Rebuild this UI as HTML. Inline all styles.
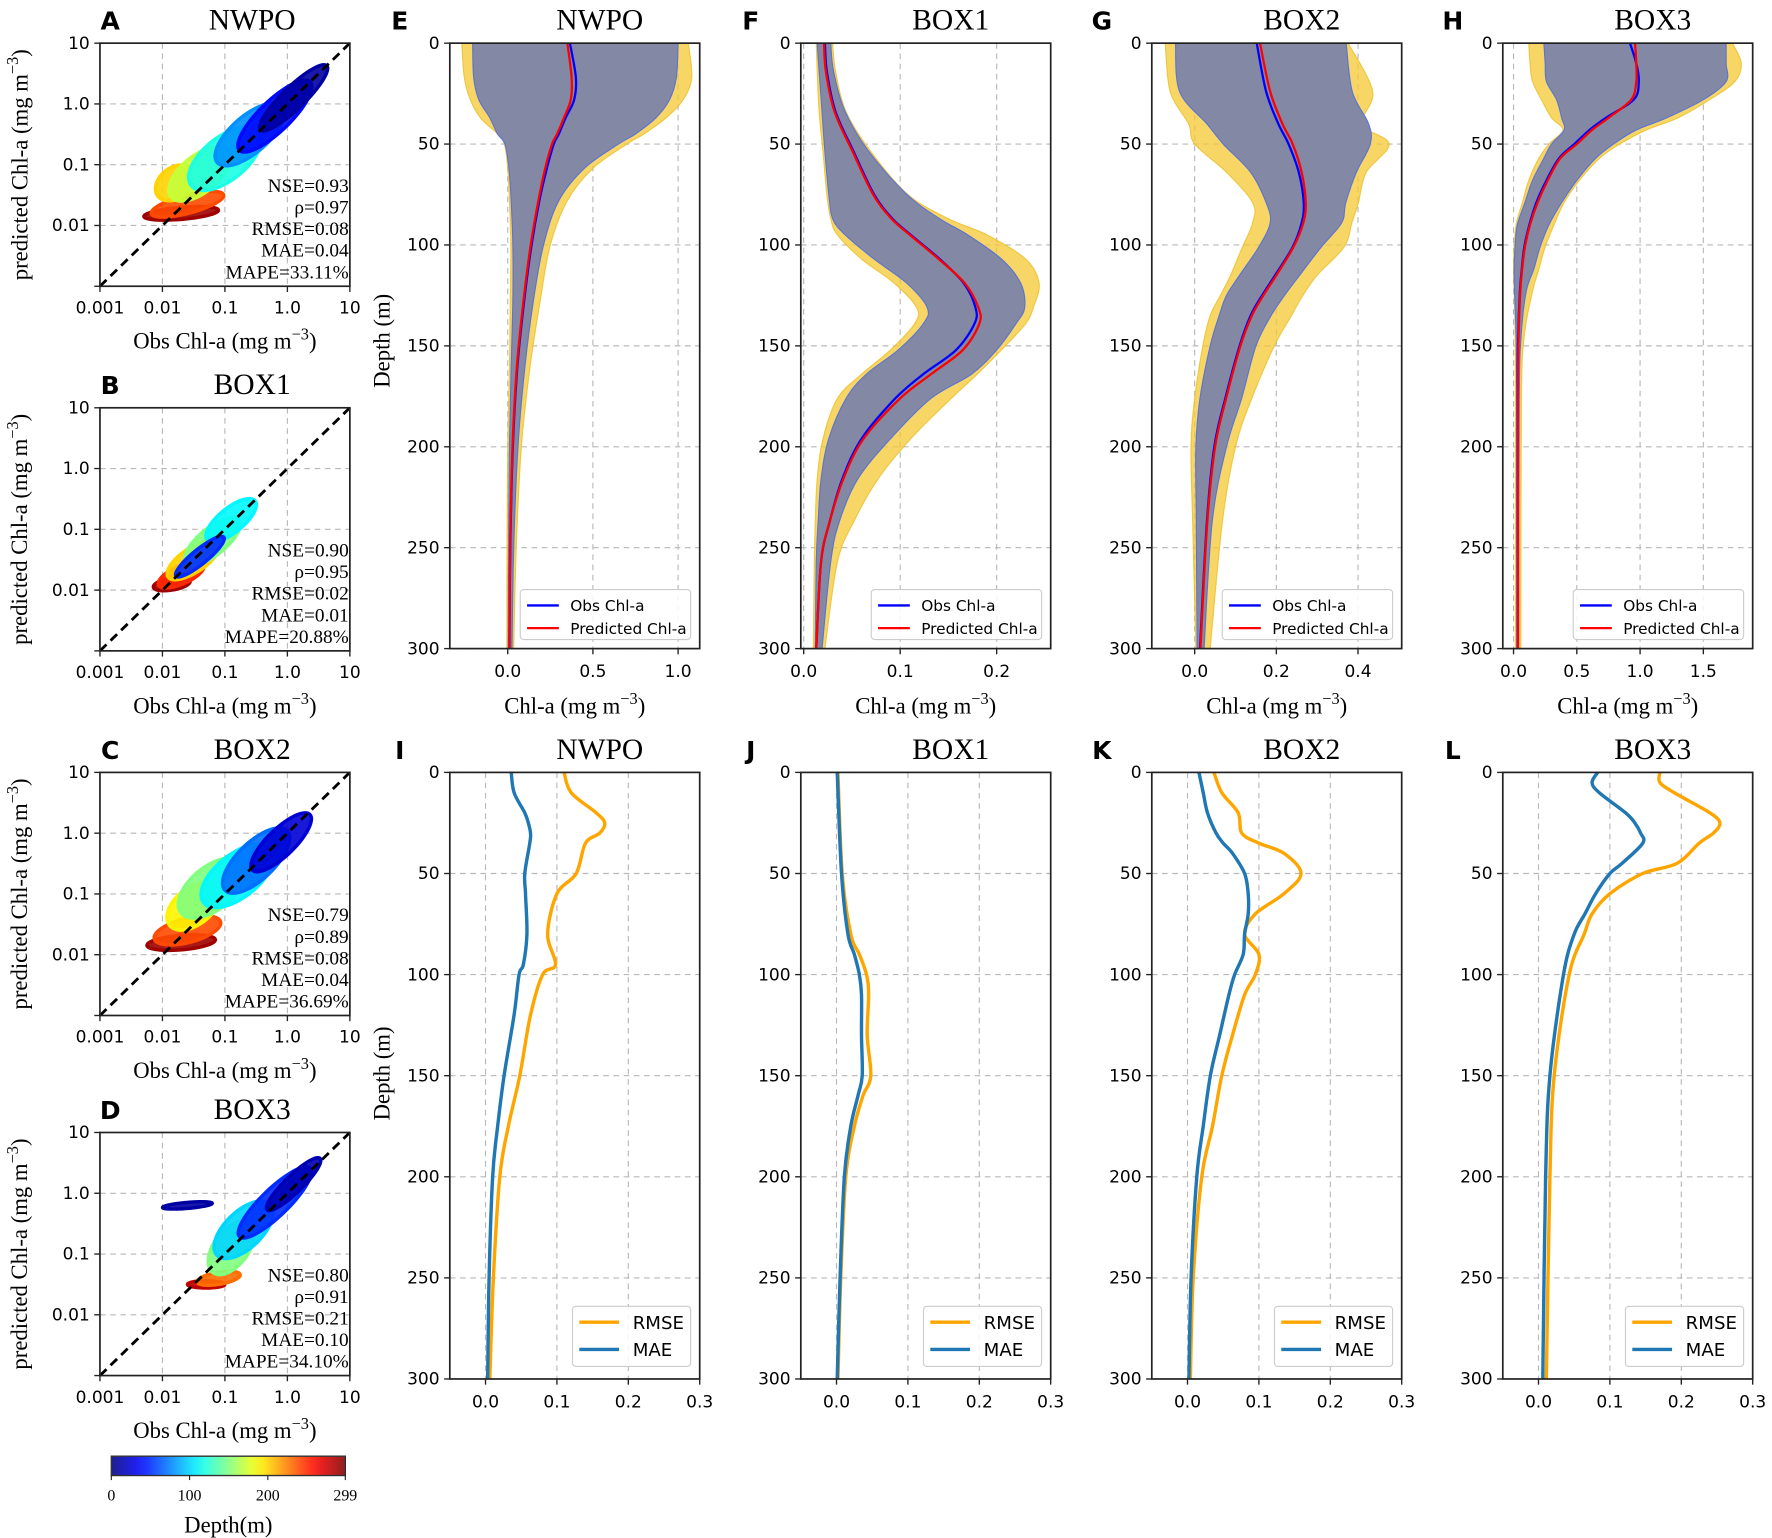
<!DOCTYPE html>
<html><head><meta charset="utf-8"><title>Chl-a evaluation</title>
<style>
html,body{margin:0;padding:0;background:#fff;}
svg{display:block;}
.sans{font-family:"DejaVu Sans","Liberation Sans",sans-serif;}
.serif{font-family:"Liberation Serif","DejaVu Serif",serif;}
</style></head>
<body>
<svg id="fig" xmlns="http://www.w3.org/2000/svg" width="1772" height="1538" viewBox="0 0 1560 1354" preserveAspectRatio="none"></svg>
<script>
// ---------- scatter cluster data (log10 obs, log10 pred, depth, spread major/minor in decades, angle deg) ----------
const aObsLog=[-1.7,-1.6,-1.8,-1.4,-1.0,-0.6,-0.2,0.1];
const aPredLog=[-1.8,-1.65,-1.3,-1.15,-0.9,-0.5,-0.2,0.1];
const aDepth=[290,240,200,170,120,80,40,10];
const aMaj=[0.6,0.6,0.35,0.6,0.7,0.7,0.8,0.75];
const aMin=[0.1,0.15,0.25,0.3,0.35,0.3,0.25,0.18];
const aAng=[5,15,40,40,40,42,45,45];
const aStats=["NSE=0.93","ρ=0.97","RMSE=0.08","MAE=0.04","MAPE=33.11%"];

const bObsLog=[-1.85,-1.7,-1.5,-1.2,-0.9,-1.4];
const bPredLog=[-1.9,-1.75,-1.5,-1.2,-0.85,-1.45];
const bDepth=[290,250,200,150,110,50];
const bMaj=[0.3,0.4,0.5,0.55,0.5,0.5];
const bMin=[0.1,0.15,0.2,0.22,0.2,0.12];
const bAng=[10,25,35,40,40,40];
const bStats=["NSE=0.90","ρ=0.95","RMSE=0.02","MAE=0.01","MAPE=20.88%"];

const cObsLog=[-1.7,-1.6,-1.5,-1.2,-0.8,-0.5,-0.1];
const cPredLog=[-1.8,-1.6,-1.2,-0.9,-0.7,-0.45,-0.15];
const cDepth=[290,240,190,150,110,70,25];
const cMaj=[0.55,0.55,0.5,0.65,0.7,0.7,0.65];
const cMin=[0.12,0.2,0.3,0.35,0.35,0.3,0.22];
const cAng=[5,15,40,40,40,45,45];
const cStats=["NSE=0.79","ρ=0.89","RMSE=0.08","MAE=0.04","MAPE=36.69%"];

const dObsLog=[-1.3,-1.1,-0.9,-0.7,-0.2,0.1,-1.6];
const dPredLog=[-1.5,-1.4,-0.9,-0.6,-0.15,0.15,-0.2];
const dDepth=[280,230,150,100,50,15,10];
const dMaj=[0.3,0.35,0.5,0.6,0.8,0.6,0.4];
const dMin=[0.06,0.1,0.28,0.3,0.22,0.14,0.05];
const dAng=[0,10,55,45,45,45,5];
const dStats=["NSE=0.80","ρ=0.91","RMSE=0.21","MAE=0.10","MAPE=34.10%"];

const logTicks=[0.001,0.01,0.1,1,10];
const logTickLabels=["0.001","0.01","0.1","1.0","10"];
const cbarTicks=[0,100,200,299];

// ---------- profile data ----------
const eD=[0,17,28,37,45,50,62,78,100,128,161,200,250,300];
const eObs=[0.365,0.40,0.39,0.34,0.30,0.27,0.23,0.186,0.14,0.096,0.056,0.03,0.015,0.01];
const ePred=[0.35,0.375,0.37,0.33,0.29,0.26,0.22,0.18,0.135,0.092,0.053,0.028,0.014,0.01];
const eGLo=[-0.206,-0.2,-0.17,-0.105,-0.06,-0.016,0.007,0.02,0.03,0.03,0.02,0.01,0.005,0.003];
const eGHi=[1.0,0.99,0.95,0.87,0.75,0.65,0.45,0.3,0.21,0.15,0.1,0.06,0.035,0.025];
const eYLo=[-0.27,-0.255,-0.22,-0.16,-0.06,-0.02,0.0,0.01,0.018,0.015,0.01,0.0,-0.004,-0.005];
const eYHi=[1.06,1.08,1.03,0.93,0.8,0.7,0.5,0.35,0.25,0.19,0.13,0.08,0.05,0.035];

const fD=[0,14,34,54,75,87,95,107,119,131,139,152,164,176,196,216,237,257,300];
const fObs=[0.022,0.024,0.033,0.052,0.073,0.092,0.111,0.141,0.166,0.178,0.177,0.158,0.124,0.095,0.06,0.04,0.027,0.018,0.013];
const fPred=[0.021,0.023,0.032,0.051,0.072,0.091,0.11,0.14,0.167,0.181,0.182,0.165,0.132,0.1,0.062,0.041,0.027,0.018,0.013];
const fGLo=[0.014,0.016,0.019,0.022,0.026,0.03,0.043,0.073,0.107,0.128,0.124,0.098,0.065,0.044,0.026,0.018,0.015,0.013,0.012];
const fGHi=[0.028,0.031,0.043,0.068,0.107,0.141,0.17,0.205,0.225,0.229,0.22,0.2,0.174,0.132,0.09,0.056,0.037,0.028,0.019];
const fYLo=[0.013,0.014,0.016,0.02,0.024,0.028,0.035,0.06,0.094,0.117,0.115,0.09,0.06,0.035,0.02,0.014,0.012,0.011,0.01];
const fYHi=[0.03,0.033,0.044,0.07,0.108,0.15,0.19,0.23,0.244,0.238,0.23,0.205,0.18,0.153,0.111,0.077,0.052,0.035,0.022];

const gD=[0,24,40,50,64,79,89,101,115,125,135,150,176,200,237,300];
const gObs=[0.152,0.175,0.205,0.23,0.255,0.267,0.262,0.24,0.197,0.165,0.137,0.11,0.075,0.048,0.03,0.013];
const gPred=[0.16,0.185,0.215,0.24,0.262,0.272,0.266,0.242,0.2,0.168,0.14,0.112,0.077,0.05,0.031,0.014];
const gGLo=[-0.047,-0.037,0.03,0.07,0.137,0.175,0.185,0.157,0.11,0.078,0.06,0.038,0.013,0.003,0.004,0.006];
const gGHi=[0.371,0.386,0.426,0.43,0.396,0.37,0.36,0.31,0.257,0.22,0.187,0.15,0.115,0.078,0.043,0.023];
const gYLo=[-0.072,-0.06,-0.015,0.0,0.078,0.142,0.142,0.117,0.088,0.063,0.038,0.02,0.0,-0.009,-0.005,0.003];
const gYHi=[0.376,0.436,0.41,0.476,0.42,0.401,0.385,0.366,0.3,0.265,0.237,0.195,0.14,0.1,0.068,0.038];

const hD=[0,10,19,28,37,43,50,57,68,79,90,101,112,123,145,178,300];
const hObs=[0.92,0.97,0.99,0.95,0.73,0.6,0.48,0.36,0.26,0.18,0.125,0.085,0.065,0.05,0.037,0.032,0.032];
const hPred=[0.96,0.97,0.97,0.93,0.75,0.62,0.5,0.37,0.27,0.19,0.13,0.09,0.068,0.053,0.04,0.035,0.035];
const hGLo=[0.24,0.25,0.26,0.34,0.38,0.40,0.3,0.24,0.15,0.09,0.03,0.012,0.005,0.008,0.02,0.025,0.027];
const hGHi=[1.68,1.68,1.68,1.5,1.21,0.97,0.79,0.65,0.5,0.38,0.28,0.21,0.16,0.1,0.06,0.045,0.04];
const hYLo=[0.12,0.13,0.15,0.22,0.3,0.39,0.28,0.2,0.12,0.07,0.02,0.005,0.0,0.005,0.012,0.015,0.015];
const hYHi=[1.73,1.8,1.75,1.55,1.3,1.05,0.84,0.68,0.52,0.4,0.32,0.25,0.2,0.15,0.085,0.062,0.058];

// ---------- error profile data ----------
const iD=[0,10,20,25,30,35,50,60,80,95,100,120,150,175,200,250,300];
const iRmse=[0.11,0.12,0.155,0.167,0.16,0.14,0.127,0.1,0.087,0.098,0.08,0.063,0.048,0.032,0.02,0.011,0.006];
const iMae=[0.036,0.04,0.055,0.06,0.063,0.062,0.055,0.056,0.058,0.053,0.047,0.04,0.026,0.017,0.01,0.005,0.003];
const jD=[0,50,80,90,100,110,130,150,160,175,200,250,300];
const jRmse=[0.002,0.008,0.02,0.032,0.042,0.045,0.043,0.048,0.037,0.025,0.013,0.006,0.002];
const jMae=[0.001,0.007,0.016,0.025,0.032,0.035,0.035,0.036,0.03,0.02,0.011,0.005,0.001];
const kD=[0,10,20,30,35,40,50,60,70,80,90,100,110,130,150,175,200,250,300];
const kRmse=[0.037,0.048,0.071,0.076,0.1,0.135,0.159,0.135,0.095,0.08,0.1,0.095,0.08,0.063,0.048,0.035,0.02,0.008,0.004];
const kMae=[0.016,0.022,0.028,0.04,0.05,0.063,0.08,0.085,0.085,0.08,0.078,0.066,0.058,0.045,0.032,0.022,0.013,0.005,0.002];
const lD=[0,5,10,20,25,30,35,45,50,60,70,80,100,150,200,300];
const lRmse=[0.17,0.17,0.19,0.24,0.254,0.245,0.225,0.194,0.146,0.1,0.075,0.064,0.043,0.022,0.016,0.011];
const lMae=[0.083,0.075,0.085,0.122,0.135,0.143,0.146,0.117,0.1,0.08,0.065,0.05,0.035,0.016,0.01,0.006];

const depthTicks=[0,50,100,150,200,250,300];
const eTicks=[0,0.5,1.0], eTickLabels=["0.0","0.5","1.0"];
const fTicks=[0,0.1,0.2], fTickLabels=["0.0","0.1","0.2"];
const gTicks=[0,0.2,0.4], gTickLabels=["0.0","0.2","0.4"];
const hTicks=[0,0.5,1.0,1.5], hTickLabels=["0.0","0.5","1.0","1.5"];
const errTicks=[0,0.1,0.2,0.3], errTickLabels=["0.0","0.1","0.2","0.3"];

// ---------- helpers ----------
const NS="http://www.w3.org/2000/svg";
const svg=document.getElementById('fig');
function mk(tag,attrs,parent){const el=document.createElementNS(NS,tag);for(const k in attrs)el.setAttribute(k,attrs[k]);(parent||svg).appendChild(el);return el;}
function txt(s,x,y,cls,size,anchor,parent,extra){const t=mk('text',Object.assign({x:x,y:y,'font-size':size,'text-anchor':anchor||'middle'},extra||{}),parent);t.setAttribute('class',cls);t.textContent=s;return t;}
function jet(t){const c=v=>Math.round(255*Math.max(0,Math.min(1,v)));
 let r=1.5-Math.abs(4*t-3),g=1.5-Math.abs(4*t-2),b=1.5-Math.abs(4*t-1);
 return 'rgb('+c(r)+','+c(g)+','+c(b)+')';}
function smooth(pts){if(pts.length<2)return '';let d='M'+pts[0][0].toFixed(2)+','+pts[0][1].toFixed(2);
 for(let i=0;i<pts.length-1;i++){const p0=pts[Math.max(0,i-1)],p1=pts[i],p2=pts[i+1],p3=pts[Math.min(pts.length-1,i+2)];
  const c1=[p1[0]+(p2[0]-p0[0])/6,p1[1]+(p2[1]-p0[1])/6],c2=[p2[0]-(p3[0]-p1[0])/6,p2[1]-(p3[1]-p1[1])/6];
  d+=' C'+c1[0].toFixed(2)+','+c1[1].toFixed(2)+' '+c2[0].toFixed(2)+','+c2[1].toFixed(2)+' '+p2[0].toFixed(2)+','+p2[1].toFixed(2);}
 return d;}
function supLabel(parent,x,y,pre,size,cls,rot,name){
 const t=mk('text',{x:x,y:y,'font-size':size,'text-anchor':'middle'},parent);t.setAttribute('class',cls);
 if(rot)t.setAttribute('transform','rotate(-90 '+x+' '+y+')');
 
 
 const a=mk('tspan',{},t);a.textContent=pre+'(mg m';
 const b=mk('tspan',{dy:-8,'font-size':size*0.72},t);b.textContent='−3';
 const c=mk('tspan',{dy:8},t);c.textContent=')';
 return t;}

// ---------- scatter panels ----------
const SL=88,SR=308,SH=214;
function scatterPanel(letter,title,top,obsLog,predLog,depth,maj,mn,ang,stats,key){
 const g=mk('g',{});
 
 
 const bot=top+SH;
 const sx=v=>SL+(Math.log10(v)+3)/4*(SR-SL);
 const sy=v=>bot-(Math.log10(v)+3)/4*SH;
 for(let k=1;k<4;k++){
  const gx=mk('line',{x1:sx(logTicks[k]),x2:sx(logTicks[k]),y1:top,y2:bot,stroke:'#b8b8b8','stroke-width':1,'stroke-dasharray':'5,4'},g);
  
  
  const gy=mk('line',{x1:SL,x2:SR,y1:sy(logTicks[k]),y2:sy(logTicks[k]),stroke:'#b8b8b8','stroke-width':1,'stroke-dasharray':'5,4'},g);
  
  
 }
 const order=depth.map((d,i)=>i).sort((a,b)=>depth[b]-depth[a]);
 order.forEach(i=>{
  const a=ang[i]*Math.PI/180,pts=[];
  for(let s=0;s<36;s++){const t=s/36*2*Math.PI;
   const lx=obsLog[i]+maj[i]*Math.cos(t)*Math.cos(a)-mn[i]*Math.sin(t)*Math.sin(a);
   const ly=predLog[i]+maj[i]*Math.cos(t)*Math.sin(a)+mn[i]*Math.sin(t)*Math.cos(a);
   pts.push([sx(Math.pow(10,lx)),sy(Math.pow(10,ly))]);}
  const col=jet(depth[i]/299);
  const p=mk('path',{d:smooth(pts.concat([pts[0]]))+'Z',fill:col,stroke:col,'stroke-width':3,'stroke-linejoin':'round','fill-opacity':0.9},g);
  
  
 });
 const dl=mk('line',{x1:sx(0.001),y1:sy(0.001),x2:sx(10),y2:sy(10),stroke:'#000','stroke-width':2.5,'stroke-dasharray':'8,5'},g);
 
 
 const fr=mk('rect',{x:SL,y:top,width:SR-SL,height:SH,fill:'none',stroke:'#222','stroke-width':1.5},g);
 
 
 logTicks.forEach((v,k)=>{
  mk('line',{x1:sx(v),x2:sx(v),y1:bot,y2:bot+5,stroke:'#222','stroke-width':1.2},g);
  const xt=txt(logTickLabels[k],sx(v),bot+24,'sans',15,'middle',g);
  
  
  mk('line',{x1:SL-5,x2:SL,y1:sy(v),y2:sy(v),stroke:'#222','stroke-width':1.2},g);
  if(k>0){const yt=txt(logTickLabels[k],SL-9,sy(v)+5,'sans',15,'end',g);
   
   }
 });
 stats.forEach((s,k)=>{const st=txt(s,SR-1,top+131+k*19,'serif',17,'end',g);
  
  });
 const pl=txt(letter,97,top-12,'sans',22,'middle',g,{'font-weight':'bold'});
 
 
 const tt=txt(title,222,top-12,'serif',26,'middle',g);
 
 
 supLabel(g,(SL+SR)/2,bot+55,'Obs Chl-a ',20,'serif',false,'x-axis-title');
 supLabel(g,24,top+SH/2,'predicted Chl-a ',20,'serif',true,'y-axis-title');
}
scatterPanel('A','NWPO',38,aObsLog,aPredLog,aDepth,aMaj,aMin,aAng,aStats,'nwpo');
scatterPanel('B','BOX1',359,bObsLog,bPredLog,bDepth,bMaj,bMin,bAng,bStats,'box1');
scatterPanel('C','BOX2',680,cObsLog,cPredLog,cDepth,cMaj,cMin,cAng,cStats,'box2');
scatterPanel('D','BOX3',997,dObsLog,dPredLog,dDepth,dMaj,dMin,dAng,dStats,'box3');

// colorbar
(function(){
 const g=mk('g',{});
 
 
 const x0=98,x1=304,y0=1282,y1=1299;
 const defs=mk('defs',{},g);
 const lg=mk('linearGradient',{id:'jetg',x1:0,x2:1,y1:0,y2:0},defs);
 for(let i=0;i<=20;i++){mk('stop',{offset:(i/20),'stop-color':jet(i/20)},lg);}
 mk('rect',{x:x0,y:y0,width:x1-x0,height:y1-y0,fill:'url(#jetg)',stroke:'#222','stroke-width':1.2},g);
 mk('rect',{x:x0,y:y0,width:x1-x0,height:y1-y0,fill:'#fff','fill-opacity':0.12},g);
 cbarTicks.forEach(v=>{const x=x0+v/299*(x1-x0);
  mk('line',{x1:x,x2:x,y1:y1,y2:y1+4,stroke:'#222','stroke-width':1},g);
  const t=txt(String(v),x,y1+22,'serif',14,'middle',g);
  
  });
 const lb=txt('Depth(m)',(x0+x1)/2,1349,'serif',20,'middle',g);
 
 
})();

// ---------- profile panels ----------
const colL=[396,705,1014,1323],PW=220;
function profileAxes(g,l,t,b,xmin,xmax,ticks,labels){
 const X=v=>l+(v-xmin)/(xmax-xmin)*PW;
 const Y=d=>t+d/300*(b-t);
 ticks.forEach(v=>{const gl=mk('line',{x1:X(v),x2:X(v),y1:t,y2:b,stroke:'#b8b8b8','stroke-width':1,'stroke-dasharray':'5,4'},g);
  
  });
 depthTicks.forEach(d=>{const gl=mk('line',{x1:l,x2:l+PW,y1:Y(d),y2:Y(d),stroke:'#b8b8b8','stroke-width':1,'stroke-dasharray':'5,4'},g);
  
  });
 return {X,Y};
}
function profileFrame(g,l,t,b,X,Y,ticks,labels){
 const fr=mk('rect',{x:l,y:t,width:PW,height:b-t,fill:'none',stroke:'#222','stroke-width':1.5},g);
 
 
 ticks.forEach((v,k)=>{mk('line',{x1:X(v),x2:X(v),y1:b,y2:b+5,stroke:'#222','stroke-width':1.2},g);
  const tl=txt(labels[k],X(v),b+25,'sans',15,'middle',g);
  
  });
 depthTicks.forEach(d=>{mk('line',{x1:l-5,x2:l,y1:Y(d),y2:Y(d),stroke:'#222','stroke-width':1.2},g);
  const tl=txt(String(d),l-9,Y(d)+5,'sans',15,'end',g);
  
  });
}
function band(g,X,Y,D,lo,hi,fill,stroke,name){
 const a=D.map((d,i)=>[X(lo[i]),Y(d)]),b=D.map((d,i)=>[X(hi[i]),Y(d)]).reverse();
 const p1=smooth(a),p2=smooth(b).replace('M','L');
 const p=mk('path',{d:p1+' '+p2+' Z',fill:fill,stroke:stroke,'stroke-width':1},g);
 
 
}
function line(g,X,Y,D,v,col,w,name){
 const p=mk('path',{d:smooth(D.map((d,i)=>[X(v[i]),Y(d)])),fill:'none',stroke:col,'stroke-width':w},g);
 
 
}
function titles(g,letter,title,l,t){
 const pl=txt(letter,l-44,t-12,'sans',22,'middle',g,{'font-weight':'bold'});
 
 
 const tt=txt(title,l+PW*0.6,t-12,'serif',26,'middle',g);
 
 
}
function chlPanel(idx,letter,title,xmin,xmax,ticks,labels,D,obs,pred,gLo,gHi,yLo,yHi,key){
 const l=colL[idx],t=38,b=571;
 const g=mk('g',{});
 
 
 const {X,Y}=profileAxes(g,l,t,b,xmin,xmax,ticks,labels);
 const cp=mk('clipPath',{id:'cp'+key},g);mk('rect',{x:l,y:t,width:PW,height:b-t},cp);
 const inner=mk('g',{'clip-path':'url(#cp'+key+')'},g);
 band(inner,X,Y,D,yLo,yHi,'rgba(244,200,50,0.75)','rgba(235,190,40,0.8)','pred-range-band');
 band(inner,X,Y,D,gLo,gHi,'rgb(131,137,164)','#5b73d6','obs-range-band');
 line(inner,X,Y,D,obs,'#0000ff',2,'obs-line');
 line(inner,X,Y,D,pred,'#ff0000',2,'pred-line');
 profileFrame(g,l,t,b,X,Y,ticks,labels);
 titles(g,letter,title,l,t);
 supLabel(g,l+PW/2,b+57,'Chl-a ',20,'serif',false,'x-axis-title');
 const lg=mk('g',{},g);
 
 
 const bx=l+PW-158;
 mk('rect',{x:bx,y:519,width:150,height:44,rx:3,fill:'#fff','fill-opacity':0.85,stroke:'#ccc','stroke-width':1},lg);
 const l1=mk('line',{x1:bx+6,x2:bx+34,y1:533,y2:533,stroke:'#0000ff','stroke-width':2},lg);
 
 
 txt('Obs Chl-a',bx+44,538,'sans',13.5,'start',lg);
 const l2=mk('line',{x1:bx+6,x2:bx+34,y1:553,y2:553,stroke:'#ff0000','stroke-width':2},lg);
 
 
 txt('Predicted Chl-a',bx+44,558,'sans',13.5,'start',lg);
}
chlPanel(0,'E','NWPO',-0.34,1.127,eTicks,eTickLabels,eD,eObs,ePred,eGLo,eGHi,eYLo,eYHi,'e');
chlPanel(1,'F','BOX1',-0.003,0.256,fTicks,fTickLabels,fD,fObs,fPred,fGLo,fGHi,fYLo,fYHi,'f');
chlPanel(2,'G','BOX2',-0.105,0.507,gTicks,gTickLabels,gD,gObs,gPred,gGLo,gGHi,gYLo,gYHi,'g');
chlPanel(3,'H','BOX3',-0.085,1.89,hTicks,hTickLabels,hD,hObs,hPred,hGLo,hGHi,hYLo,hYHi,'h');

function errPanel(idx,letter,title,D,rmse,mae,key){
 const l=colL[idx],t=680,b=1214;
 const g=mk('g',{});
 
 
 const {X,Y}=profileAxes(g,l,t,b,-0.05,0.3,errTicks,errTickLabels);
 line(g,X,Y,D,rmse,'#ffa500',3,'rmse-line');
 line(g,X,Y,D,mae,'#1f77b4',3,'mae-line');
 profileFrame(g,l,t,b,X,Y,errTicks,errTickLabels);
 titles(g,letter,title,l,t);
 const lg=mk('g',{},g);
 
 
 const bx=l+108;
 mk('rect',{x:bx,y:1150,width:104,height:53,rx:3,fill:'#fff','fill-opacity':0.85,stroke:'#ccc','stroke-width':1},lg);
 const l1=mk('line',{x1:bx+6,x2:bx+41,y1:1164,y2:1164,stroke:'#ffa500','stroke-width':3},lg);
 
 
 txt('RMSE',bx+53,1170,'sans',16,'start',lg);
 const l2=mk('line',{x1:bx+6,x2:bx+41,y1:1188,y2:1188,stroke:'#1f77b4','stroke-width':3},lg);
 
 
 txt('MAE',bx+53,1194,'sans',16,'start',lg);
}
errPanel(0,'I','NWPO',iD,iRmse,iMae,'i');
errPanel(1,'J','BOX1',jD,jRmse,jMae,'j');
errPanel(2,'K','BOX2',kD,kRmse,kMae,'k');
errPanel(3,'L','BOX3',lD,lRmse,lMae,'l');

[300,945].forEach(y=>{const t=txt('Depth (m)',343,y,'serif',20,'middle',svg,{transform:'rotate(-90 343 '+y+')'});
 
 });
</script>
</body></html>
